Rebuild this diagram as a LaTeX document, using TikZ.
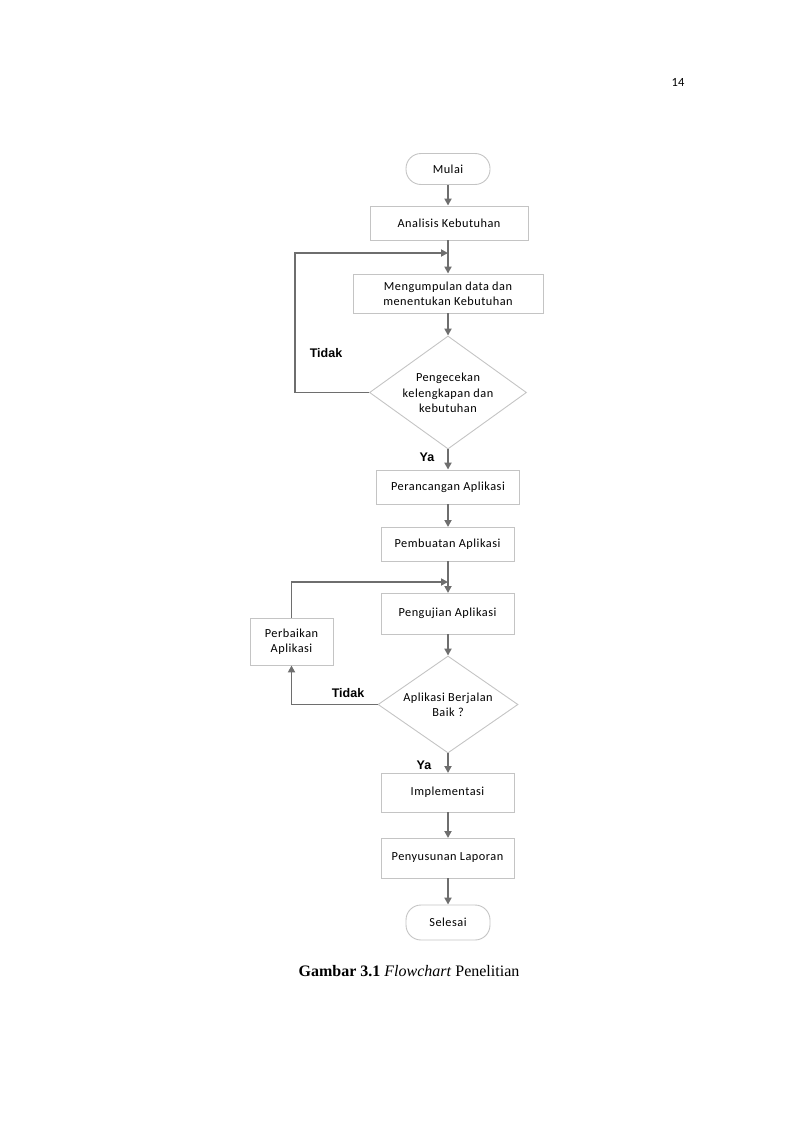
\documentclass[tikz,border=0pt]{standalone}
\usepackage{fontspec}
\setmainfont{Carlito}[LetterSpace=4]
\newfontfamily\capfont{Liberation Serif}
\newfontfamily\lblfont{Liberation Sans}
\newfontfamily\pgfont{Carlito}
\usetikzlibrary{shapes.geometric,arrows.meta}
\definecolor{boxline}{HTML}{C4C4C4}
\definecolor{arrline}{HTML}{6E6E6E}
\tikzset{
  base/.style={draw=boxline, line width=0.9pt, align=center, font=\fontsize{12.3}{15}\selectfont, inner sep=0pt},
  procbox/.style={base, rectangle},
  termbox/.style={base, rounded corners=15pt},
  conn/.style={draw=arrline, line width=1.8pt, -{Triangle[width=7pt,length=7pt]}},
  plainconn/.style={draw=arrline, line width=1.8pt},
  lbl/.style={font=\lblfont\bfseries\fontsize{12.5}{14}\selectfont},
  dectext/.style={align=center, font=\fontsize{12.3}{15.5}\selectfont}
}
\begin{document}
\begin{tikzpicture}[x=1pt,y=-1pt]
\useasboundingbox (0,0) rectangle (800,1132);
\node[font=\pgfont\fontsize{12.5}{14}\selectfont] (pg) at (678,82) {14};

\node[termbox, minimum width=84pt, minimum height=31pt] (mulai) at (448,169) {Mulai};
\node[procbox, minimum width=158pt, minimum height=34pt] (anal) at (449,223) {Analisis Kebutuhan};
\node[procbox, minimum width=190pt, minimum height=39pt] (kumpul) at (448,293.5) {Mengumpulan data dan\\menentukan Kebutuhan};
\node[base, diamond, minimum width=157pt, minimum height=113pt, inner sep=0pt] (cek) at (448,392.5) {};
\node[dectext] (cektext) at (448,393) {Pengecekan\\kelengkapan dan\\kebutuhan};
\node[procbox, minimum width=143pt, minimum height=34pt] (ranc) at (448,487) {Perancangan Aplikasi};
\node[procbox, minimum width=133pt, minimum height=34pt] (buat) at (447.5,544) {Pembuatan Aplikasi};
\node[procbox, minimum width=133pt, minimum height=41pt] (uji) at (447.5,613.5) {Pengujian Aplikasi};
\node[procbox, minimum width=83pt, minimum height=47pt] (baik) at (291.5,641.5) {Perbaikan\\Aplikasi};
\node[base, diamond, minimum width=140pt, minimum height=97pt] (jalan) at (448,704.5) {};
\node[dectext] (jalantext) at (448,705) {Aplikasi Berjalan\\Baik ?};
\node[procbox, minimum width=133pt, minimum height=39pt] (impl) at (447.5,792.5) {Implementasi};
\node[procbox, minimum width=133pt, minimum height=40pt] (lap) at (447.5,858) {Penyusunan Laporan};
\node[termbox, minimum width=84pt, minimum height=35pt] (selesai) at (448,922.5) {Selesai};

\coordinate (j1) at (448,253);
\coordinate (j2) at (448,582);

\draw[conn] (mulai.south) -- (mulai.south |- anal.north);
\draw[plainconn] (anal.south -| j1) -- (j1);
\draw[conn] (j1) -- (j1 |- kumpul.north);
\draw[conn] (kumpul.south -| cek.north) -- (cek.north);
\draw[plainconn] (cek.west) -- (295,392.5) -- (295,253) -- ++(146,0);
\draw[conn] (441,253) -- (j1);
\draw[conn] (cek.south) -- (cek.south |- ranc.north);
\draw[conn] (ranc.south -| 448,0) -- (448,527);
\draw[plainconn] (448,561) -- (j2);
\draw[conn] (j2) -- (448,593);
\draw[plainconn] (baik.north) -- (baik.north |- j2) -- (441,582);
\draw[conn] (441,582) -- (j2);
\draw[conn] (448,634) -- (jalan.north);
\draw[conn] (jalan.west) -- (baik.south |- jalan.west) -- (baik.south);
\draw[conn] (jalan.south) -- (448,773);
\draw[conn] (448,812) -- (448,838);
\draw[conn] (448,878) -- (selesai.north);

\node[lbl] (t1) at (326,353) {Tidak};
\node[lbl] (y1) at (427,457) {Ya};
\node[lbl] (t2) at (348,693) {Tidak};
\node[lbl] (y2) at (424,765) {Ya};

\node[font=\capfont\fontsize{16}{18}\selectfont] (cap) at (409,971) {\textbf{Gambar 3.1} \textit{Flowchart} Penelitian};
\end{tikzpicture}
\end{document}
